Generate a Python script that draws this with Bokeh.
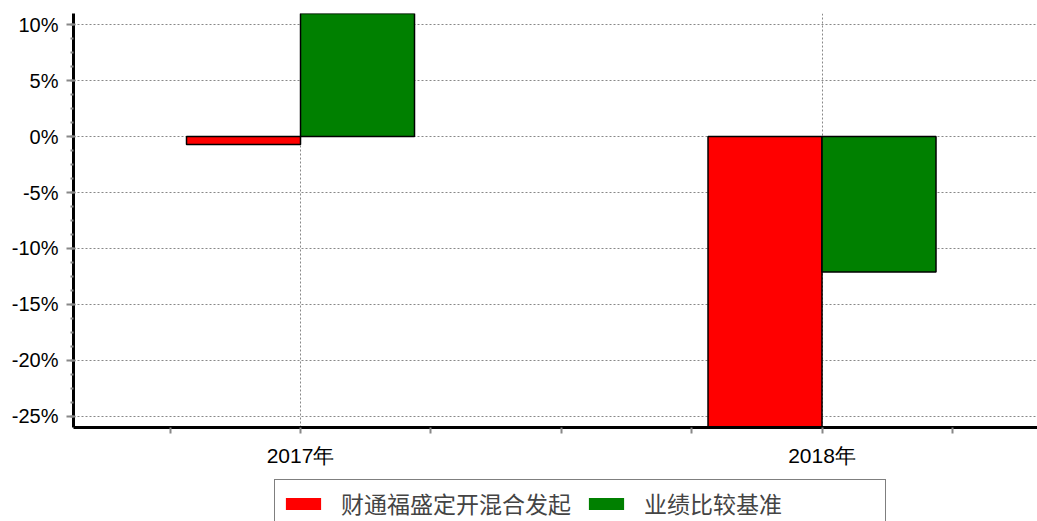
from bokeh.plotting import figure
from bokeh.layouts import column
from bokeh.models import (ColumnDataSource, Range1d, FixedTicker, Grid, Legend,
                          LegendItem, PrintfTickFormatter)
from bokeh.transform import dodge
from bokeh.embed import file_html
from bokeh.resources import INLINE

# ---- data ----
years = ["2017年", "2018年"]
fund = [-0.7, -26.5]          # 财通福盛定开混合发起 (%)
bench = [12.5, -12.1]         # 业绩比较基准 (%)
series_names = ["财通福盛定开混合发起", "业绩比较基准"]
series_colors = ["#ff0000", "#008000"]
y_ticks = [-25, -20, -15, -10, -5, 0, 5, 10]

pos = list(range(len(years)))
src = ColumnDataSource(dict(x=pos, fund=fund, bench=bench, zero=[0] * len(pos)))

p = figure(width=1037, height=470, output_backend="svg", toolbar_location=None,
           x_range=Range1d(-0.4353, 1.4132), y_range=Range1d(-26, 11),
           min_border_left=73, min_border_right=0, min_border_top=13, min_border_bottom=43)
p.outline_line_color = None
p.background_fill_color = "white"
p.border_fill_color = "white"

bw = 0.2186
r1 = p.vbar(x=dodge("x", -bw / 2, range=p.x_range), top="fund", bottom="zero", width=bw,
            source=src, fill_color=series_colors[0], line_color="black", line_width=1.5)
r2 = p.vbar(x=dodge("x", bw / 2, range=p.x_range), top="bench", bottom="zero", width=bw,
            source=src, fill_color=series_colors[1], line_color="black", line_width=1.5)

# ---- grids ----
p.grid.visible = False
p.add_layout(Grid(dimension=1, ticker=FixedTicker(ticks=y_ticks),
                  grid_line_color="#888888", grid_line_dash="2 2", grid_line_width=1))
p.add_layout(Grid(dimension=0, ticker=FixedTicker(ticks=pos),
                  grid_line_color="#888888", grid_line_dash="2 2", grid_line_width=1))

# ---- y axis ----
ya = p.yaxis[0]
minor = [v / 4 * 5 for v in range(-20, 9)]
ya.ticker = FixedTicker(ticks=y_ticks, minor_ticks=minor)
ya.formatter = PrintfTickFormatter(format="%d%%")
ya.axis_line_width = 3
ya.axis_line_color = "black"
ya.major_tick_line_color = "#888888"
ya.major_tick_line_width = 2
ya.major_tick_out = 7
ya.major_tick_in = 2
ya.minor_tick_line_color = "#888888"
ya.minor_tick_line_width = 2
ya.minor_tick_out = 3
ya.minor_tick_in = 0
ya.major_label_text_font = "Liberation Sans"
ya.major_label_text_font_size = "20px"
ya.major_label_text_color = "black"
ya.major_label_standoff = 8

# ---- x axis ----
xa = p.xaxis[0]
xticks = [-0.25, 0, 0.25, 0.5, 0.75, 1, 1.25]
xa.ticker = FixedTicker(ticks=xticks)
overrides = {t: "" for t in xticks}
for i, y in enumerate(years):
    overrides[i] = y
xa.major_label_overrides = overrides
xa.axis_line_width = 3
xa.axis_line_color = "black"
xa.major_tick_line_color = "#888888"
xa.major_tick_line_width = 2
xa.major_tick_out = 6
xa.major_tick_in = 0
xa.minor_tick_line_color = None
xa.major_label_text_font = "Liberation Sans"
xa.major_label_text_font_size = "21px"
xa.major_label_text_color = "black"
xa.major_label_standoff = 10

# ---- legend strip (separate figure below the chart) ----
lg = figure(width=1037, height=51, output_backend="svg", toolbar_location=None,
            x_range=Range1d(0, 1), y_range=Range1d(0, 1),
            min_border_left=0, min_border_right=0, min_border_top=0, min_border_bottom=0)
lg.axis.visible = False
lg.grid.visible = False
lg.outline_line_color = None
lg.border_fill_color = "white"
l1 = lg.vbar(x="x", top="fund", width=0.1, source=src,
             fill_color=series_colors[0], line_color=None, visible=False)
l2 = lg.vbar(x="x", top="bench", width=0.1, source=src,
             fill_color=series_colors[1], line_color=None, visible=False)
legend = Legend(items=[LegendItem(label=series_names[0], renderers=[l1]),
                       LegendItem(label=series_names[1] + "　　　　\u2009", renderers=[l2])],
                orientation="horizontal", location=(201, -6),
                glyph_width=44, glyph_height=15, label_standoff=16, spacing=13,
                padding=6, margin=0, label_height=20,
                label_text_font="Noto Sans CJK SC", label_text_font_size="23px",
                label_text_line_height=1.0,
                border_line_color="black", border_line_width=1.5,
                background_fill_color="white", background_fill_alpha=1,
                inactive_fill_alpha=0)
lg.add_layout(legend)

open("out.html", "w").write(file_html(column(p, lg, spacing=0), INLINE))
